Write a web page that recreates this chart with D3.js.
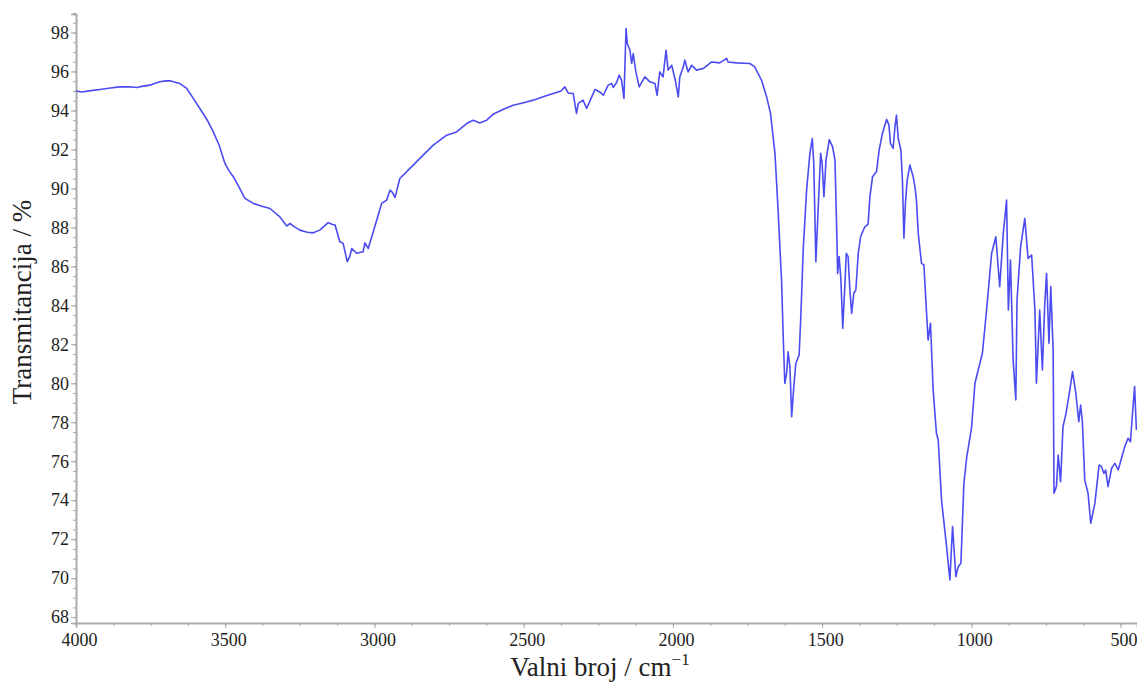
<!DOCTYPE html>
<html>
<head>
<meta charset="utf-8">
<script src="https://cdn.jsdelivr.net/npm/d3@7"></script>
<style>
  html, body { margin: 0; padding: 0; background: #fff; }
  svg { display: block; }
</style>
</head>
<body>
<svg id="chart" width="1137" height="682"></svg>
<script>
const wavenumbers = [
  4000,3981,3950,3920,3885,3853,3820,3797,3775,3752,3735,3719,3700,3685,3668,3652,3629,3607,3585,3560,
  3540,3520,3501,3487,3473,3455,3434,3406,3380,3350,3317,3294,3283,3270,3250,3225,3205,3183,3155,3140,
  3132,3116,3105,3091,3083,3076,3060,3038,3032,3021,3004,2990,2976,2959,2948,2940,2931,2915,2881,2848,
  2803,2758,2725,2691,2669,2647,2624,2602,2570,2535,2500,2468,2435,2401,2375,2362,2351,2334,2323,2317,
  2301,2289,2272,2261,2245,2233,2217,2205,2200,2189,2180,2172,2164,2157,2153,2144,2138,2133,2124,2113,
  2094,2077,2060,2053,2044,2033,2023,2016,2004,1992,1982,1977,1965,1960,1949,1937,1921,1899,1870,1843,
  1820,1815,1787,1742,1726,1703,1686,1673,1658,1647,1636,1630,1625,1619,1614,1608,1602,1595,1588,1577,
  1571,1563,1552,1541,1533,1528,1521,1513,1505,1500,1494,1487,1476,1465,1457,1452,1448,1443,1437,1431,
  1424,1419,1413,1407,1401,1394,1387,1379,1371,1357,1346,1340,1331,1318,1309,1298,1284,1276,1271,1262,
  1256,1251,1245,1236,1231,1226,1221,1215,1206,1195,1189,1184,1178,1167,1159,1145,1137,1128,1117,1111,
  1100,1083,1072,1063,1052,1044,1035,1025,1016,999,988,977,963,949,932,918,905,893,882,876,
  869,860,851,847,835,821,810,798,787,782,771,762,754,748,740,734,726,723,715,709,
  701,693,684,670,661,650,640,634,628,620,609,600,586,572,564,556,550,542,530,519,
  508,497,486,475,467,460,453,447
];
const transmittance = [
  95.0,94.95,95.02,95.08,95.15,95.21,95.22,95.18,95.25,95.3,95.4,95.47,95.52,95.52,95.45,95.38,95.13,94.62,94.1,93.5,
  92.9,92.2,91.28,90.9,90.6,90.1,89.49,89.23,89.1,88.97,88.54,88.07,88.2,88.05,87.86,87.75,87.72,87.86,88.24,88.15,
  88.12,87.26,87.18,86.24,86.5,86.92,86.67,86.75,87.21,86.92,87.78,88.5,89.23,89.4,89.91,89.8,89.54,90.51,91.03,91.54,
  92.22,92.73,92.9,93.33,93.5,93.36,93.5,93.81,94.05,94.27,94.4,94.53,94.7,94.87,95.0,95.21,94.9,94.87,93.85,94.36,
  94.53,94.1,94.7,95.08,94.95,94.78,95.3,95.38,95.18,95.42,95.81,95.55,94.62,98.2,97.44,97.09,96.41,96.92,95.98,95.21,
  95.72,95.47,95.38,94.78,95.98,95.72,97.09,96.07,96.32,95.55,94.7,95.72,96.24,96.58,95.98,96.32,96.07,96.15,96.49,96.44,
  96.67,96.49,96.44,96.41,96.24,95.55,94.7,93.85,91.8,88.72,85.3,82.22,80.0,80.51,81.62,80.85,78.29,79.83,81.03,81.45,
  83.59,87.0,89.91,91.8,92.56,91.28,86.24,89.06,91.8,91.28,89.57,91.45,92.51,92.13,91.45,88.38,85.64,86.5,85.3,82.82,
  84.96,86.67,86.5,84.79,83.59,84.62,84.79,86.67,87.52,88.03,88.17,89.57,90.6,90.85,91.96,92.82,93.54,93.25,92.31,92.05,
  93.16,93.76,92.56,91.96,90.43,87.44,89.23,90.43,91.2,90.6,90.08,89.4,87.69,86.15,86.07,82.22,83.08,79.66,77.44,77.09,
  74.01,71.62,69.91,72.65,70.08,70.6,70.77,74.87,76.15,77.77,80.0,80.68,81.54,83.76,86.67,87.52,84.96,87.69,89.4,83.76,
  86.32,81.2,79.15,84.27,87.0,88.46,86.41,86.58,83.76,80.0,83.76,80.68,84.1,85.64,82.05,84.96,81.71,74.36,74.7,76.32,
  74.95,77.77,78.37,79.66,80.6,79.49,78.03,78.88,78.03,75.03,74.36,72.82,73.85,75.81,75.72,75.38,75.55,74.7,75.64,75.89,
  75.55,76.15,76.75,77.18,77.0,78.46,79.83,77.6
];
const xTicks = [4000,3500,3000,2500,2000,1500,1000,500];
const yTicks = [68,70,72,74,76,78,80,82,84,86,88,90,92,94,96,98];

const serif = "'Liberation Serif', 'Times New Roman', serif";
const svg = d3.select("#chart");
const mLeft = 76, mRight = 1137, mTop = 14, mBottom = 623;

const x = d3.scaleLinear().domain([4000, 445]).range([mLeft, mRight]);
const y = d3.scaleLinear().domain([67.7, 98.95]).range([mBottom, mTop]);

const axisColor = "#a8a8a8";

// minor ticks
const xMinor = d3.range(4000, 444, -125);
const yMinor = d3.range(68, 99.01, 0.5);

const gx = svg.append("g").attr("transform", `translate(0,${mBottom})`);
gx.call(d3.axisBottom(x).tickValues(xMinor).tickSize(3).tickFormat(""));
gx.append("g").call(d3.axisBottom(x).tickValues(xTicks).tickSize(5).tickFormat(d3.format("d")));
gx.selectAll("path.domain").attr("stroke", axisColor).attr("stroke-width", 1.5);
gx.selectAll(".tick line").attr("stroke", axisColor);
gx.selectAll(".tick text")
  .style("font-family", serif)
  .style("font-size", "18px")
  .style("fill", "#222")
  .attr("dx", 3)
  .attr("y", 10);

const gy = svg.append("g").attr("transform", `translate(${mLeft},0)`);
gy.call(d3.axisLeft(y).tickValues(yMinor).tickSize(3).tickFormat(""));
gy.append("g").call(d3.axisLeft(y).tickValues(yTicks).tickSize(5).tickFormat(d3.format("d")));
gy.selectAll("path.domain").attr("stroke", axisColor).attr("stroke-width", 1.5);
gy.selectAll(".tick line").attr("stroke", axisColor);
gy.selectAll(".tick text")
  .style("font-family", serif)
  .style("font-size", "18px")
  .style("fill", "#222")
  .attr("x", -7);

// spectrum
const n = Math.min(wavenumbers.length, transmittance.length);
const data = wavenumbers.slice(0, n).map((w, i) => ({ w, t: transmittance[i] }));
svg.append("path")
  .datum(data)
  .attr("fill", "none")
  .attr("stroke", "#4b4bf2")
  .attr("stroke-width", 1.6)
  .attr("stroke-linejoin", "round")
  .attr("d", d3.line().x(d => x(d.w)).y(d => y(d.t)));

// axis titles
const xt = svg.append("text")
  .attr("x", 600).attr("y", 676)
  .attr("text-anchor", "middle")
  .style("font-family", serif)
  .style("font-size", "27px")
  .style("fill", "#222");
xt.append("tspan").text("Valni broj / cm");
xt.append("tspan").attr("dy", -11).style("font-size", "17px").text("\u22121");

svg.append("text")
  .attr("transform", "translate(31,302) rotate(-90)")
  .attr("text-anchor", "middle")
  .style("font-family", serif)
  .style("font-size", "27px")
  .style("fill", "#222")
  .text("Transmitancija / %");
</script>
</body>
</html>
